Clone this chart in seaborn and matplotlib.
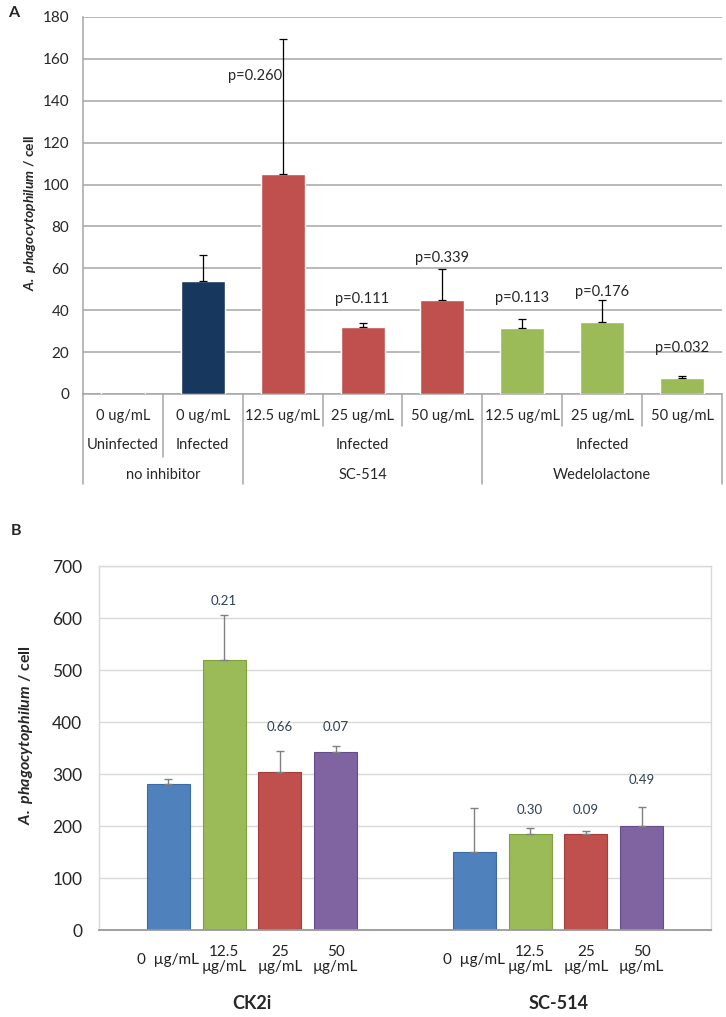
import numpy as np
import pandas as pd
import matplotlib
matplotlib.use('Agg')
import matplotlib.pyplot as plt
import seaborn as sns

# Panel A data
a_doses = ['0 ug/mL', '0 ug/mL', '12.5 ug/mL', '25 ug/mL', '50 ug/mL',
           '12.5 ug/mL', '25 ug/mL', '50 ug/mL']
a_status = ['Uninfected', 'Infected', 'Infected', 'Infected']
a_status_spans = [(0, 0), (1, 1), (2, 4), (5, 7)]
a_groups = ['no inhibitor', 'SC-514', 'Wedelolactone']
a_group_spans = [(0, 1), (2, 4), (5, 7)]
a_means = [1.0, 54, 105, 32, 45, 31.5, 34.5, 7.5]
a_errs = [0, 12.5, 64.5, 2, 14.5, 4.5, 10.5, 1]
a_pvals = ['', '', 'p=0.260', 'p=0.111', 'p=0.339', 'p=0.113', 'p=0.176', 'p=0.032']

# Panel B data
b_groups = ['CK2i', 'SC-514']
b_doses = ['0', '12.5', '25', '50']
b_dose_labels = ['0  \u00b5g/mL', '12.5\n\u00b5g/mL', '25\n\u00b5g/mL', '50\n\u00b5g/mL']
ck2i_means = [280, 520, 304, 342]
ck2i_errs = [11, 85, 40, 12]
ck2i_p = ['', '0.21', '0.66', '0.07']
sc514_means = [150, 185, 185, 200]
sc514_errs = [85, 11, 5, 37]
sc514_p = ['', '0.30', '0.09', '0.49']

# styles
a_colors = ['#4F81BD', '#17375E', '#C0504D', '#C0504D', '#C0504D', '#9BBB59', '#9BBB59', '#9BBB59']
a_label_offsets = [(0, 0), (0, 0), (-28, 98), (0, 28), (0, 42), (0, 30), (0, 30), (0, 30)]  # px from bar top
b_colors = ['#4F81BD', '#9BBB59', '#C0504D', '#8064A2']
b_edges = ['#3C6AA3', '#7FA03F', '#A23D3A', '#664C88']
b_label_offsets = [0, 6, 15, 10, 0, 9, 12, 18]  # px above error bar top

sns.set_style('white')
plt.rcParams['font.family'] = ['Lato', 'DejaVu Sans']
plt.rcParams['mathtext.fontset'] = 'custom'
plt.rcParams['mathtext.rm'] = 'Lato'
plt.rcParams['mathtext.bf'] = 'Lato:bold'
plt.rcParams['mathtext.it'] = 'Lato:italic'
plt.rcParams['mathtext.bfit'] = 'Lato:italic:bold'

fig = plt.figure(figsize=(7.26, 10.17), dpi=100)
px = 72 / 100  # points per pixel

# ---------------- Panel A ----------------
axA = fig.add_axes([0.1143, 0.6126, 0.8802, 0.3707])
a_df = pd.DataFrame({'pos': [str(i) for i in range(len(a_means))], 'value': a_means})
sns.barplot(data=a_df, x='pos', y='value', hue='pos', palette=a_colors, legend=False,
            width=0.55, saturation=1, errorbar=None, ax=axA)
bars = sorted(axA.patches, key=lambda p: p.get_x())
for p in bars:
    p.set_zorder(3)
centers = np.array([p.get_x() + p.get_width() / 2 for p in bars])
errs = np.array(a_errs)
m = errs > 0
axA.errorbar(centers[m], np.array(a_means)[m], yerr=[np.zeros(m.sum()), errs[m]], fmt='none',
             ecolor='black', elinewidth=0.9, capsize=3, capthick=0.9, zorder=4)
for c, v, p, off in zip(centers, a_means, a_pvals, a_label_offsets):
    if p:
        axA.annotate(p, (c, v), xytext=(off[0] * px, off[1] * px), textcoords='offset points',
                     ha='center', va='center', fontsize=10.5)

axA.set_xlim(-0.5, 7.5)
axA.set_ylim(0, 180)
axA.set_yticks(range(0, 181, 20))
axA.yaxis.grid(True, color='#A6A6A6', lw=1.1)
axA.set_axisbelow(True)
for s in ['top', 'right']:
    axA.spines[s].set_visible(False)
for s in ['left', 'bottom']:
    axA.spines[s].set_color('#A6A6A6')
    axA.spines[s].set_linewidth(1.1)
axA.tick_params(axis='y', length=5, color='#A6A6A6', labelsize=11, pad=5)
axA.set_xticks(range(8))
axA.set_xticklabels(a_doses, fontsize=10.5)
axA.tick_params(axis='x', length=0, pad=11)
axA.set_xlabel('')
axA.set_ylabel(r'$\mathbfit{A.\ phagocytophilum}$ / cell', fontsize=10, fontweight='bold')
axA.yaxis.set_label_coords(-0.07, 0.48)

# table below panel A
tr = axA.get_xaxis_transform()
for lab, (s, e) in zip(a_status, a_status_spans):
    axA.text((s + e) / 2, -0.135, lab, transform=tr, ha='center', va='center', fontsize=10.5)
for lab, (s, e) in zip(a_groups, a_group_spans):
    axA.text((s + e) / 2, -0.215, lab, transform=tr, ha='center', va='center', fontsize=10.5)
group_b = {s - 0.5 for s, e in a_group_spans} | {a_group_spans[-1][1] + 0.5}
status_b = {s - 0.5 for s, e in a_status_spans}
for xb in np.arange(-0.5, 8.0, 1.0):
    if xb in group_b:
        yb = -0.239
    elif xb in status_b:
        yb = -0.166
    else:
        yb = -0.085
    axA.plot([xb, xb], [0, yb], transform=tr, color='#A6A6A6', lw=1.1, clip_on=False)

# ---------------- Panel B ----------------
axB = fig.add_axes([0.1364, 0.0855, 0.8430, 0.3579])
b_df = pd.DataFrame({
    'group': [g for g in b_groups for _ in b_doses],
    'dose': b_doses * len(b_groups),
    'value': ck2i_means + sc514_means,
})
sns.barplot(data=b_df, x='group', y='value', hue='dose', hue_order=b_doses, palette=b_colors,
            legend=False, width=0.73, gap=0.23, saturation=1, errorbar=None, ax=axB)
bbars = sorted(axB.patches, key=lambda p: p.get_x())
bcent = np.array([p.get_x() + p.get_width() / 2 for p in bbars])
for i, p in enumerate(bbars):
    p.set_edgecolor(b_edges[i % 4])
    p.set_linewidth(0.8)
b_means = np.array(ck2i_means + sc514_means)
b_errs = np.array(ck2i_errs + sc514_errs)
axB.errorbar(bcent, b_means, yerr=[np.zeros(len(b_errs)), b_errs], fmt='none',
             ecolor='#808080', elinewidth=1, capsize=3.2, capthick=1)
for c, v, e, p, off in zip(bcent, b_means, b_errs, ck2i_p + sc514_p, b_label_offsets):
    if p:
        axB.annotate(p, (c, v + e), xytext=(0, off * px + 2), textcoords='offset points',
                     ha='center', va='bottom', fontsize=9.5, color='#2E3F55')
trB = axB.get_xaxis_transform()
for c, lab in zip(bcent, b_dose_labels * 2):
    axB.text(c, -0.082, lab, transform=trB, ha='center', va='center', fontsize=11,
             linespacing=1.1, color='#222222')

axB.set_xlim(-0.5, 1.5)
axB.set_ylim(0, 700)
axB.set_yticks(range(0, 701, 100))
axB.yaxis.grid(True, color='#D9D9D9', lw=1)
axB.set_axisbelow(True)
for s in ['top', 'right', 'left']:
    axB.spines[s].set_color('#D9D9D9')
    axB.spines[s].set_linewidth(1)
axB.spines['bottom'].set_color('#999999')
axB.spines['bottom'].set_linewidth(1.3)
axB.set_xticks([0, 1])
axB.set_xticklabels(b_groups, fontsize=13, fontweight='bold')
axB.tick_params(axis='x', length=0, pad=47)
axB.tick_params(axis='y', length=0, labelsize=12.5, pad=12)
axB.set_xlabel('')
axB.set_ylabel(r'$\mathbfit{A.\ phagocytophilum}$ / cell', fontsize=11.5, fontweight='bold')
axB.yaxis.set_label_coords(-0.105, 0.536)

fig.text(14 / 726, 1 - 13 / 1017, 'A', fontsize=11.5, fontweight='bold', ha='center', va='center')
fig.text(16 / 726, 1 - 531 / 1017, 'B', fontsize=11.5, fontweight='bold', ha='center', va='center')

fig.savefig('out.png', dpi=100)
